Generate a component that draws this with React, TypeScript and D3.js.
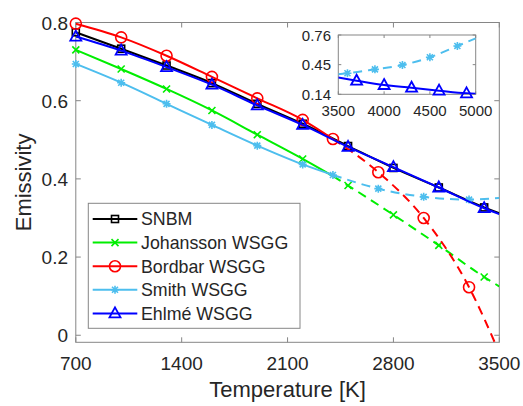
import * as d3 from 'd3';

// main plot data (emissivity vs temperature)
const SNBM_T = [700, 1000, 1300, 1600, 1900, 2200, 2500, 2800, 3100, 3400, 3500];
const SNBM_E = [0.775, 0.733, 0.69, 0.645, 0.592, 0.541, 0.484, 0.428, 0.378, 0.327, 0.312];
const SNBM_MARKS = [700, 1000, 1300, 1600, 1900, 2200, 2500, 2800, 3100, 3400];

const JOH_T = [700, 1000, 1300, 1600, 1900, 2200, 2400, 2500, 2800, 3100, 3400, 3500];
const JOH_E = [0.73, 0.681, 0.63, 0.575, 0.513, 0.451, 0.407, 0.383, 0.308, 0.23, 0.149, 0.125];
const JOH_MARKS = [700, 1000, 1300, 1600, 1900, 2200, 2500, 2800, 3100, 3400];

const BORD_T = [700, 1000, 1300, 1600, 1900, 2200, 2400, 2700, 3000, 3300, 3500];
const BORD_E = [0.797, 0.762, 0.715, 0.661, 0.606, 0.551, 0.502, 0.417, 0.3, 0.123, -0.045];
const BORD_MARKS = [700, 1000, 1300, 1600, 1900, 2200, 2400, 2700, 3000, 3300];

const SMITH_T = [700, 1000, 1300, 1600, 1900, 2200, 2400, 2700, 3000, 3300, 3500];
const SMITH_E = [0.694, 0.646, 0.592, 0.538, 0.485, 0.437, 0.41, 0.375, 0.354, 0.347, 0.351];
const SMITH_MARKS = [700, 1000, 1300, 1600, 1900, 2200, 2400, 2700, 3000, 3300];

const EHL_T = [700, 1000, 1300, 1600, 1900, 2200, 2500, 2800, 3100, 3400, 3500];
const EHL_E = [0.764, 0.728, 0.686, 0.641, 0.588, 0.538, 0.482, 0.43, 0.378, 0.325, 0.31];
const EHL_MARKS = [700, 1000, 1300, 1600, 1900, 2200, 2500, 2800, 3100, 3400];

// inset (high temperature)
const IN_SMITH_T = [3500, 3600, 3900, 4200, 4500, 4800, 5000];
const IN_SMITH_E = [0.35, 0.36, 0.401, 0.446, 0.527, 0.645, 0.725];
const IN_SMITH_MARKS = [3600, 3900, 4200, 4500, 4800];
const IN_EHL_T = [3500, 3700, 4000, 4300, 4600, 4900, 5000];
const IN_EHL_E = [0.315, 0.282, 0.237, 0.209, 0.178, 0.15, 0.145];
const IN_EHL_MARKS = [3700, 4000, 4300, 4600, 4900];

const X_TICKS = [700, 1400, 2100, 2800, 3500];
const Y_TICKS = [0, 0.2, 0.4, 0.6, 0.8];
const IN_X_TICKS = [3500, 4000, 4500, 5000];
const IN_Y_TICKS = [0.14, 0.45, 0.76];

const FONT = 'Liberation Sans, Arial, Helvetica, sans-serif';
const TXT = '#262626';
const AXC = '#868686';

const series = [
  { name: 'SNBM', color: '#000000', shape: 'square', T: SNBM_T, E: SNBM_E, marks: SNBM_MARKS, split: Infinity },
  { name: 'Johansson WSGG', color: '#00ee00', shape: 'x', T: JOH_T, E: JOH_E, marks: JOH_MARKS, split: 2400 },
  { name: 'Bordbar WSGG', color: '#ff0000', shape: 'circle', T: BORD_T, E: BORD_E, marks: BORD_MARKS, split: 2400 },
  { name: 'Smith WSGG', color: '#4dbeee', shape: 'star', T: SMITH_T, E: SMITH_E, marks: SMITH_MARKS, split: 2400 },
  { name: 'Ehlmé WSGG', color: '#0000ff', shape: 'triangle', T: EHL_T, E: EHL_E, marks: EHL_MARKS, split: Infinity },
];

const inset = [
  { color: '#4dbeee', shape: 'star', T: IN_SMITH_T, E: IN_SMITH_E, marks: IN_SMITH_MARKS, dashed: true },
  { color: '#0000ff', shape: 'triangle', T: IN_EHL_T, E: IN_EHL_E, marks: IN_EHL_MARKS, dashed: false },
];

function Marker({ shape, x, y, color }: any) {
  const sw = 1.6;
  if (shape === 'square') return <rect x={x - 3.5} y={y - 3.5} width={7} height={7} fill="none" stroke={color} strokeWidth={sw} />;
  if (shape === 'circle') return <circle cx={x} cy={y} r={5.5} fill="none" stroke={color} strokeWidth={sw} />;
  if (shape === 'x')
    return <path d={`M${x - 3.5},${y - 3.5}L${x + 3.5},${y + 3.5}M${x - 3.5},${y + 3.5}L${x + 3.5},${y - 3.5}`} stroke={color} strokeWidth={sw} />;
  if (shape === 'star')
    return (
      <path
        d={`M${x - 4},${y}L${x + 4},${y}M${x},${y - 4}L${x},${y + 4}M${x - 3},${y - 3}L${x + 3},${y + 3}M${x - 3},${y + 3}L${x + 3},${y - 3}`}
        stroke={color}
        strokeWidth={sw}
      />
    );
  // triangle
  return <path d={`M${x},${y - 6}L${x + 5.5},${y + 4}L${x - 5.5},${y + 4}Z`} fill="none" stroke={color} strokeWidth={1.8} />;
}

export default function App() {
  const W = 523, H = 406;
  const x = d3.scaleLinear().domain([700, 3500]).range([75.8, 499.3]);
  const y = d3.scaleLinear().domain([-0.018, 0.8]).range([342.3, 22.5]);
  const [x0, x1] = x.range();
  const [yb, yt] = y.range();

  const ix = d3.scaleLinear().domain([3500, 5000]).range([338.3, 475.7]);
  const iy = d3.scaleLinear().domain([0.14, 0.76]).range([94.3, 35]);
  const [ix0, ix1] = ix.range();
  const [iyb, iyt] = iy.range();

  const line = (sx: any, sy: any) =>
    d3.line<[number, number]>().x((d) => sx(d[0])).y((d) => sy(d[1])).curve(d3.curveMonotoneX);
  const mainLine = line(x, y);
  const insetLine = line(ix, iy);

  const fmtY = (v: number) => (v === 0 ? '0' : d3.format('.1f')(v));

  const legendRows = series.map((s, i) => ({ ...s, yy: 219 + i * 23.6 }));

  return (
    <div style={{ position: 'fixed', left: 0, top: 0 }}>
      <svg width={W} height={H} style={{ display: 'block', background: '#fff' }} fontFamily={FONT}>
        <defs>
          <clipPath id="plotClip">
            <rect x={x0} y={yt} width={x1 - x0} height={yb - yt} />
          </clipPath>
          <clipPath id="insetClip">
            <rect x={ix0} y={iyt} width={ix1 - ix0} height={iyb - iyt} />
          </clipPath>
        </defs>

        {/* axes box with inward ticks on all sides */}
        <rect x={x0} y={yt} width={x1 - x0} height={yb - yt} fill="none" stroke={AXC} strokeWidth={1} />
        {X_TICKS.map((t) => (
          <g key={'xt' + t}>
            <line x1={x(t)} x2={x(t)} y1={yb} y2={yb - 5} stroke={AXC} />
            <line x1={x(t)} x2={x(t)} y1={yt} y2={yt + 5} stroke={AXC} />
            <text x={x(t)} y={370} textAnchor="middle" fontSize={19} fill={TXT}>{t}</text>
          </g>
        ))}
        {Y_TICKS.map((t) => (
          <g key={'yt' + t}>
            <line x1={x0} x2={x0 + 5} y1={y(t)} y2={y(t)} stroke={AXC} />
            <line x1={x1} x2={x1 - 5} y1={y(t)} y2={y(t)} stroke={AXC} />
            <text x={68} y={y(t) + 7} textAnchor="end" fontSize={19} fill={TXT}>{fmtY(t)}</text>
          </g>
        ))}
        <text x={(x0 + x1) / 2} y={397} textAnchor="middle" fontSize={22} fill={TXT}>Temperature [K]</text>
        <text transform={`translate(31,${(yt + yb) / 2}) rotate(-90)`} textAnchor="middle" fontSize={22} fill={TXT}>Emissivity</text>

        {/* series */}
        {series.map((s) => {
          const pts: [number, number][] = s.T.map((t, i) => [t, s.E[i]]);
          const solid = pts.filter((p) => p[0] <= s.split);
          const dashed = pts.filter((p) => p[0] >= s.split);
          return (
            <g key={s.name}>
              <g clipPath="url(#plotClip)">
                <path d={mainLine(solid) || ''} fill="none" stroke={s.color} strokeWidth={2} />
                {dashed.length > 1 && (
                  <path d={mainLine(dashed) || ''} fill="none" stroke={s.color} strokeWidth={2} strokeDasharray="9,6" />
                )}
              </g>
              {s.marks.map((t) => (
                <Marker key={t} shape={s.shape} color={s.color} x={x(t)} y={y(s.E[s.T.indexOf(t)])} />
              ))}
            </g>
          );
        })}

        {/* legend */}
        <rect x={88.3} y={203.3} width={211.7} height={125} fill="#fff" stroke={AXC} strokeWidth={1} />
        {legendRows.map((s) => (
          <g key={'lg' + s.name}>
            <line x1={92.7} x2={137.3} y1={s.yy} y2={s.yy} stroke={s.color} strokeWidth={2} />
            <Marker shape={s.shape} color={s.color} x={115} y={s.yy} />
            <text x={141} y={s.yy + 6.3} fontSize={17.8} fill={TXT}>{s.name}</text>
          </g>
        ))}

        {/* inset */}
        <rect x={ix0} y={iyt} width={ix1 - ix0} height={iyb - iyt} fill="#fff" stroke={AXC} strokeWidth={1} />
        {IN_X_TICKS.map((t) => (
          <g key={'ixt' + t}>
            <line x1={ix(t)} x2={ix(t)} y1={iyb} y2={iyb - 3} stroke={AXC} />
            <line x1={ix(t)} x2={ix(t)} y1={iyt} y2={iyt + 3} stroke={AXC} />
            <text x={ix(t)} y={116} textAnchor="middle" fontSize={15} fill={TXT}>{t}</text>
          </g>
        ))}
        {IN_Y_TICKS.map((t) => (
          <g key={'iyt' + t}>
            <line x1={ix0} x2={ix0 + 3} y1={iy(t)} y2={iy(t)} stroke={AXC} />
            <line x1={ix1} x2={ix1 - 3} y1={iy(t)} y2={iy(t)} stroke={AXC} />
            <text x={331} y={iy(t) + 5.5} textAnchor="end" fontSize={15} fill={TXT}>{t.toFixed(2)}</text>
          </g>
        ))}
        {inset.map((s, k) => {
          const pts: [number, number][] = s.T.map((t, i) => [t, s.E[i]]);
          return (
            <g key={'in' + k}>
              <path
                clipPath="url(#insetClip)"
                d={insetLine(pts) || ''}
                fill="none"
                stroke={s.color}
                strokeWidth={2}
                strokeDasharray={s.dashed ? '9,6' : undefined}
              />
              {s.marks.map((t) => (
                <Marker key={t} shape={s.shape} color={s.color} x={ix(t)} y={iy(s.E[s.T.indexOf(t)])} />
              ))}
            </g>
          );
        })}
      </svg>
    </div>
  );
}
